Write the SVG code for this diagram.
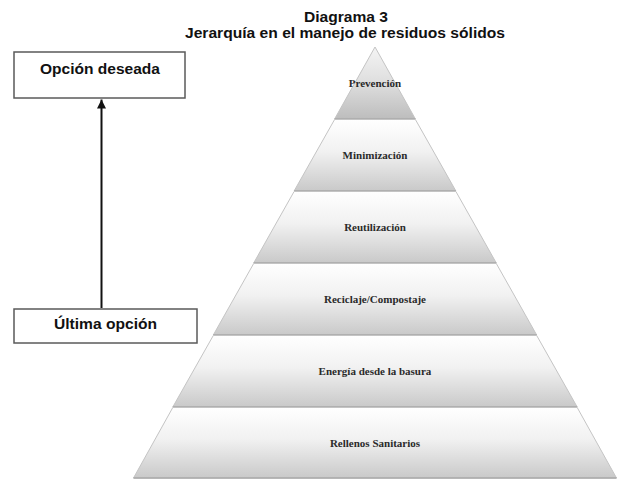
<svg xmlns="http://www.w3.org/2000/svg" width="617" height="480" viewBox="0 0 617 480">
<style>
.title{font-family:"Liberation Sans",Arial,sans-serif;font-weight:bold;font-size:14px;fill:#111;text-anchor:middle}
.box{fill:#fff;stroke:#5a5a5a;stroke-width:1.5}
.boxt{font-family:"Liberation Sans",Arial,sans-serif;font-weight:bold;font-size:15px;fill:#111;text-anchor:middle}
.layer{fill:url(#g);stroke:#c4c4c4;stroke-width:1}
.top{fill:url(#g0);stroke:#c4c4c4;stroke-width:1}
.edge{stroke:#a8a8a8;stroke-width:1.5}
.lt{font-family:"Liberation Serif","Times New Roman",serif;font-weight:bold;font-size:11px;fill:#2a2a2a;text-anchor:middle}
.conn{stroke:#111;stroke-width:2;fill:none}
</style>
<defs>
<linearGradient id="g" x1="0" y1="0" x2="0" y2="1">
<stop offset="0" stop-color="#ffffff"/>
<stop offset="0.45" stop-color="#f1f1f1"/>
<stop offset="1" stop-color="#c9c9c9"/>
</linearGradient>
<linearGradient id="g0" x1="0" y1="0" x2="0" y2="1">
<stop offset="0" stop-color="#f4f4f4"/>
<stop offset="0.5" stop-color="#dedede"/>
<stop offset="1" stop-color="#bdbdbd"/>
</linearGradient>
<marker id="ah" viewBox="0 0 10 10" refX="10" refY="5" markerWidth="4.5" markerHeight="4.5" markerUnits="strokeWidth" orient="auto">
<path d="M0,0 L10,5 L0,10 z" fill="#111"/>
</marker>
</defs>
<rect width="617" height="480" fill="#fff"/>
<g id="title">
<text class="title" x="346" y="21.5" textLength="84" lengthAdjust="spacingAndGlyphs">Diagrama 3</text>
<text class="title" x="345" y="37.5" textLength="320" lengthAdjust="spacingAndGlyphs">Jerarquía en el manejo de residuos sólidos</text>
</g>
<g id="connectors">
<line class="conn" x1="101.5" y1="308" x2="101.5" y2="99.5" marker-end="url(#ah)"/>
</g>
<g id="opcion-deseada">
<rect class="box" x="14" y="52" width="171" height="46"/>
<text class="boxt" x="100" y="73.5" textLength="120" lengthAdjust="spacingAndGlyphs">Opción deseada</text>
</g>
<g id="ultima-opcion">
<rect class="box" x="14" y="309" width="183" height="34"/>
<text class="boxt" x="105.5" y="328.5" textLength="103" lengthAdjust="spacingAndGlyphs">Última opción</text>
</g>
<g id="prevencion">
<polygon class="top" points="375,47 415.4,119 334.6,119"/>
<line class="edge" x1="334.6" y1="119" x2="415.4" y2="119"/>
<text class="lt" x="375" y="87">Prevención</text>
</g>
<g id="minimizacion">
<polygon class="layer" points="334.6,119.5 415.4,119.5 455.9,191 294.1,191"/>
<line class="edge" x1="294.1" y1="191" x2="455.9" y2="191"/>
<text class="lt" x="375" y="159">Minimización</text>
</g>
<g id="reutilizacion">
<polygon class="layer" points="294.1,191.5 455.9,191.5 496.3,263 253.7,263"/>
<line class="edge" x1="253.7" y1="263" x2="496.3" y2="263"/>
<text class="lt" x="375" y="231">Reutilización</text>
</g>
<g id="reciclaje">
<polygon class="layer" points="253.7,263.5 496.3,263.5 536.7,335 213.3,335"/>
<line class="edge" x1="213.3" y1="335" x2="536.7" y2="335"/>
<text class="lt" x="375" y="303">Reciclaje/Compostaje</text>
</g>
<g id="energia">
<polygon class="layer" points="213.3,335.5 536.7,335.5 577.2,407 172.8,407"/>
<line class="edge" x1="172.8" y1="407" x2="577.2" y2="407"/>
<text class="lt" x="375" y="375">Energía desde la basura</text>
</g>
<g id="rellenos">
<polygon class="layer" points="172.8,407.5 577.2,407.5 616.5,478 133.5,478"/>
<line class="edge" x1="133.5" y1="478" x2="616.5" y2="478"/>
<text class="lt" x="375" y="447">Rellenos Sanitarios</text>
</g>
</svg>
